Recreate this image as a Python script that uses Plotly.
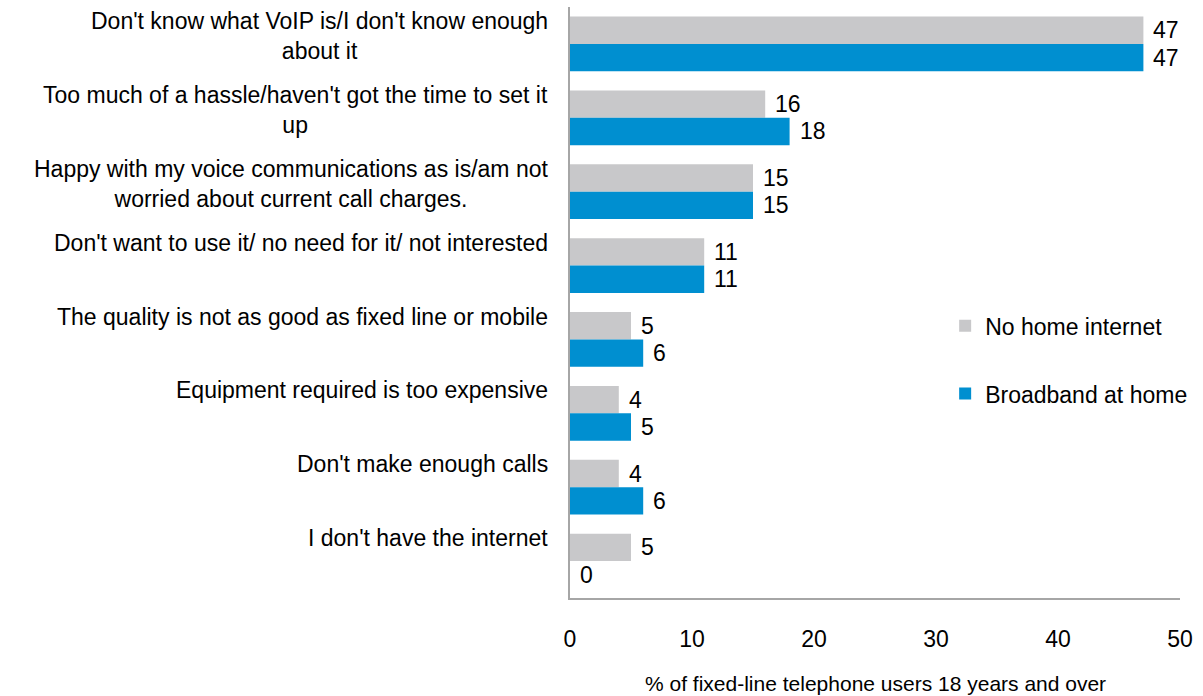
import plotly.graph_objects as go

categories = [
    "Don't know what VoIP is/I don't know enough<br>about it",
    "Too much of a hassle/haven't got the time to set it<br>up",
    "Happy with my voice communications as is/am not<br>worried about current call charges.",
    "Don't want to use it/ no need for it/ not interested",
    "The quality is not as good as fixed line or mobile",
    "Equipment required is too expensive",
    "Don't make enough calls",
    "I don't have the internet",
]
no_home_internet = [47, 16, 15, 11, 5, 4, 4, 5]
broadband_at_home = [47, 18, 15, 11, 6, 5, 6, 0]
x_ticks = [0, 10, 20, 30, 40, 50]

GREY = "#C8C8CA"
BLUE = "#008FD0"
FONT = "Liberation Sans, Arial, sans-serif"

pos = list(range(len(categories)))

fig = go.Figure()
fig.add_trace(go.Bar(
    y=pos, x=no_home_internet, orientation="h", name="No home internet",
    marker=dict(color=GREY, line=dict(width=0)), legendgroup="a",
))
fig.add_trace(go.Bar(
    y=pos, x=broadband_at_home, orientation="h", name="Broadband at home",
    marker=dict(color=BLUE, line=dict(width=0)), legendgroup="b",
))

annotations = []
# value labels just beyond the end of each bar
bar_half = 0.37 / 2
for i, (g, b) in enumerate(zip(no_home_internet, broadband_at_home)):
    for val, off in ((g, -bar_half), (b, bar_half)):
        annotations.append(dict(
            x=val, y=i + off, xref="x", yref="y", text=str(val),
            showarrow=False, xanchor="left", yanchor="middle", xshift=8,
            font=dict(size=23, color="#000000", family=FONT),
        ))

# category labels, top-aligned in each band, centred lines
for i, cat in enumerate(categories):
    annotations.append(dict(
        x=0, y=i - 0.5, xref="paper", yref="y", text=cat,
        showarrow=False, xanchor="right", yanchor="top", align="center",
        xshift=-20, yshift=1,
        font=dict(size=23, color="#000000", family=FONT),
    ))

annotations.append(dict(
    x=0.5, y=-0.144, xref="paper", yref="paper",
    text="% of fixed-line telephone users 18 years and over",
    showarrow=False, xanchor="center", yanchor="middle",
    font=dict(size=21, color="#000000", family=FONT),
))

fig.update_layout(
    width=1203, height=696,
    margin=dict(l=570, r=23, t=7, b=98),
    barmode="group", bargap=0.26, bargroupgap=0,
    plot_bgcolor="white", paper_bgcolor="white",
    font=dict(family=FONT, size=23, color="#000000"),
    xaxis=dict(
        range=[0, 50], tickvals=x_ticks, showgrid=False, zeroline=False,
        showline=True, linecolor="#A6A6A6", linewidth=1.5,
        ticks="outside", ticklen=20, tickcolor="rgba(0,0,0,0)",
        tickfont=dict(size=23, family=FONT),
    ),
    yaxis=dict(
        range=[len(categories) - 0.5, -0.5], showticklabels=False,
        showgrid=False, zeroline=False,
        showline=True, linecolor="#A6A6A6", linewidth=1.5,
    ),
    legend=dict(
        x=0.615, y=0.497, xanchor="left", yanchor="top",
        bgcolor="rgba(0,0,0,0)", tracegroupgap=35,
        font=dict(size=23, family=FONT),
        itemwidth=30,
    ),
    annotations=annotations,
    showlegend=True,
)

fig.write_html("out.html")
